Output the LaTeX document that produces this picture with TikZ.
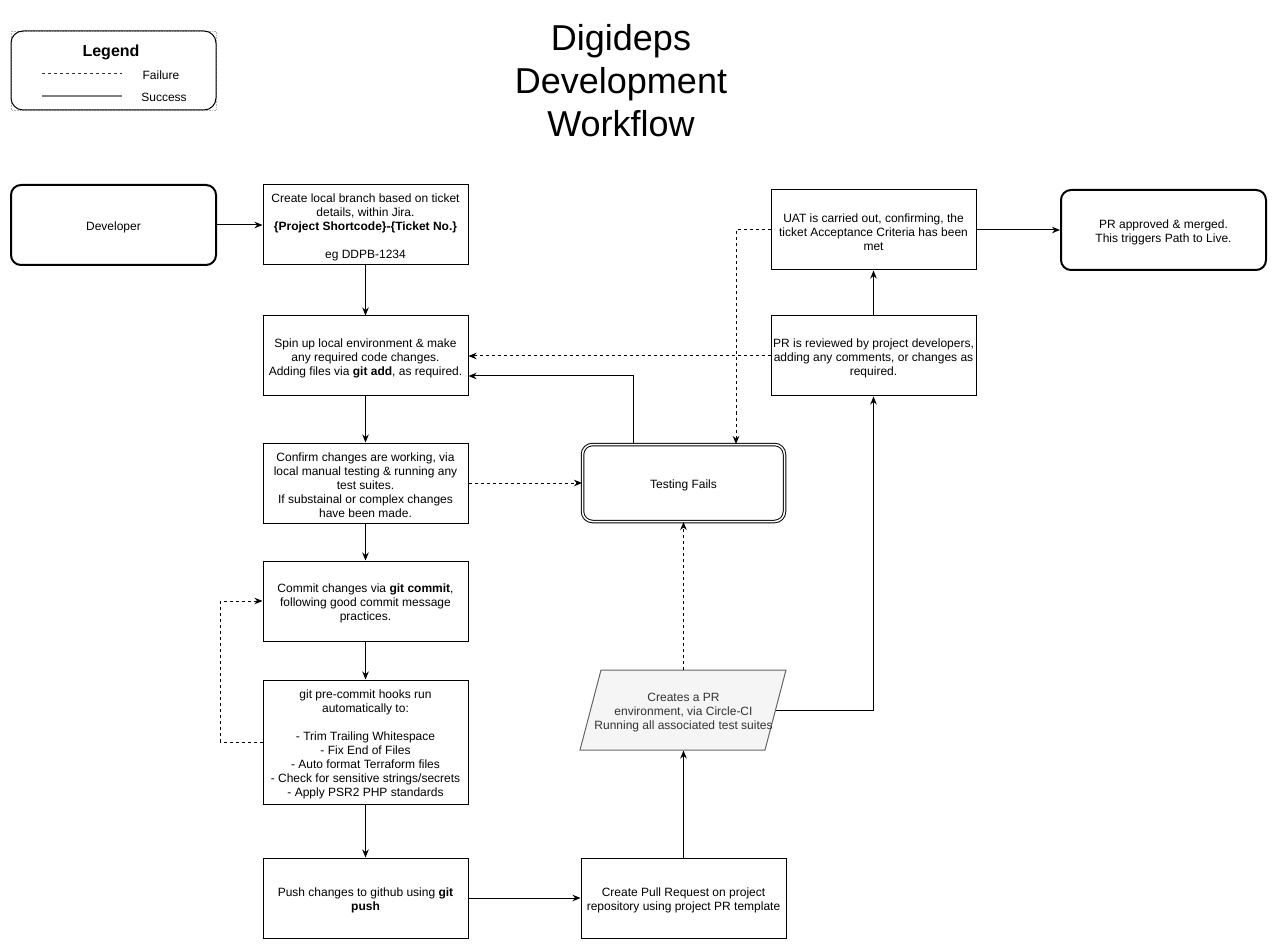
\documentclass[tikz,border=0pt]{standalone}
\usepackage{fontspec}
\setmainfont{Liberation Sans}
\usetikzlibrary{arrows.meta,calc}
\definecolor{parfill}{HTML}{F5F5F5}
\definecolor{parline}{HTML}{666666}
\definecolor{partext}{HTML}{333333}
\newcommand{\ftop}{\rule{0pt}{12.8pt}}
\begin{document}
\begin{tikzpicture}[x=1pt,y=-1pt,
  box/.style={draw, line width=1pt, minimum width=205pt, minimum height=80pt, inner sep=0pt, align=center, font=\fontsize{12}{14}\selectfont},
  rbox/.style={box, rounded corners=10pt, line width=2pt},
  arr/.style={-{Stealth[length=8pt,width=6.5pt]}, line width=1pt},
  darr/.style={arr, dash pattern=on 3pt off 3pt},
  lbl/.style={inner sep=0pt, font=\fontsize{12}{14}\selectfont}]
\useasboundingbox (0,0) rectangle (1277,949);

% legend
\draw[gray!60, densely dotted, line width=0.6pt] (11,31) rectangle (216,110);
\node[draw, rounded corners=12pt, line width=1pt, minimum width=205pt, minimum height=79pt, inner sep=0pt] (legend) at (113.5,70.5) {};
\node[inner sep=0pt, font=\fontsize{16}{18}\selectfont\bfseries] (legtitle) at (111,52.5) {Legend};
\coordinate (fa) at (42,74);
\coordinate (fb) at (122,74);
\coordinate (sa) at (42,96);
\coordinate (sb) at (122,96);
\draw[line width=1pt, dash pattern=on 3pt off 3pt, black!80] (fa) -- (fb);
\draw[line width=1.5pt, gray] (sa) -- (sb);
\node[lbl] (failure) at (161,75) {Failure};
\node[lbl] (success) at (164,97) {Success};

% title
\node[align=center, inner sep=0pt, font=\fontsize{36}{43}\selectfont] (title) at (621,81) {Digideps\\Development\\Workflow};

% nodes
\node[rbox] (dev) at (113.5,225) {\ftop Developer};
\node[box] (b1) at (365.5,225) {\ftop Create local branch based on ticket\\details, within Jira.\\\textbf{\{Project Shortcode\}-\{Ticket No.\}}\\[14pt]eg DDPB-1234};
\node[box] (b2) at (365.5,356) {\ftop Spin up local environment \& make\\any required code changes.\\Adding files via \textbf{git add}, as required.};
\node[box] (b3) at (365.5,483) {\ftop Confirm changes are working, via\\local manual testing \& running any\\test suites.\\If substainal or complex changes\\have been made.};
\node[box] (b4) at (365.5,601) {\ftop Commit changes via \textbf{git commit},\\following good commit message\\practices.};
\node[box, minimum height=124pt] (b5) at (365.5,742) {\ftop git pre-commit hooks run\\automatically to:\\[14pt]- Trim Trailing Whitespace\\- Fix End of Files\\- Auto format Terraform files\\- Check for sensitive strings/secrets\\- Apply PSR2 PHP standards};
\node[box] (b6) at (365.5,898) {\ftop Push changes to github using \textbf{git}\\\textbf{push}};
\node[box] (b7) at (683.5,898) {\ftop Create Pull Request on project\\repository using project PR template};
\draw[parline, fill=parfill, line width=1pt] (601,670) -- (786,670) -- (765,750) -- (580,750) -- cycle;
\node[box, draw=none, text=partext] (par) at (683.5,710) {\ftop Creates a PR\\environment, via Circle-CI\\Running all associated test suites};
\coordinate (parR) at (776,710);
\node[box, rounded corners=10pt, double, double distance=1.5pt, line width=1pt, minimum width=202pt, minimum height=77pt] (tf) at (683.5,483) {\ftop Testing Fails};
\node[box] (rev) at (873.5,356) {\ftop PR is reviewed by project developers,\\adding any comments, or changes as\\required.};
\node[box] (uat) at (873.5,230) {\ftop UAT is carried out, confirming, the\\ticket Acceptance Criteria has been\\met};
\node[rbox] (ok) at (1163.5,230) {\ftop PR approved \& merged.\\This triggers Path to Live.};

% connectors
\draw[arr] (dev) -- (b1);
\draw[arr] (b1) -- (b2);
\draw[arr] (b2) -- (b3);
\draw[arr] (b3) -- (b4);
\draw[arr] (b4) -- (b5);
\draw[arr] (b5) -- (b6);
\draw[arr] (b6) -- (b7);
\draw[arr] (b7) -- (par.south);
\draw[darr] (par.north) -- (tf.south);
\draw[arr] (parR) -| (rev.south);
\draw[arr] (rev) -- (uat);
\draw[arr] (uat) -- (ok);
\draw[darr] (uat.west) -| ([xshift=52.5pt]tf.north);
\draw[darr] (rev.west) -- (b2.east);
\draw[arr] ([xshift=-50.5pt]tf.north) |- ([yshift=-20pt]b2.east);
\draw[darr] (b3.east) -- (tf.west);
\draw[darr] (b5.west) -- ++(-42,0) |- (b4.west);
\end{tikzpicture}
\end{document}
